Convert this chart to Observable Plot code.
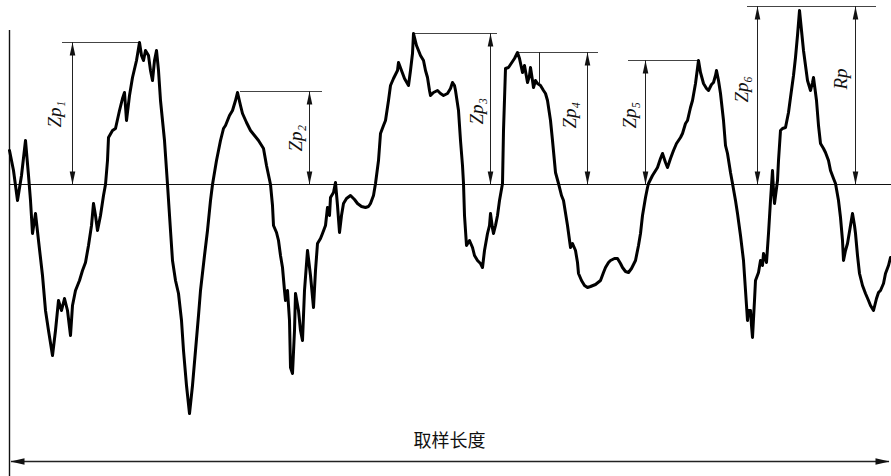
<!DOCTYPE html>
<html>
<head>
<meta charset="utf-8">
<script src="https://cdn.jsdelivr.net/npm/d3@7"></script>
<script src="https://cdn.jsdelivr.net/npm/@observablehq/plot@0.6"></script>
<style>
  html, body { margin: 0; padding: 0; background: #fff; }
  #chart svg { display: block; }
</style>
</head>
<body>
<div id="chart"></div>
<script>
// Roughness profile over one sampling length: position along the surface
// and height above the mean line (same arbitrary units on both axes).
const profileX = [
  9,13,17,21,25,28,30,32,35,38,42,45,48,52,55,58,61,64,67,70,72,75,79,82,85,88,91,93,95,97,100,103,105,107,108,112,115,119,122,124,126,129,132,136,139,141,143,145,148,150,152,154,156,158,160,164,167,170,172,175,178,181,183,186,189,192,195,198,200,204,207,210,212,216,220,223,225,229,232,235,237,240,242,246,250,254,258,263,266,270,272,273,276,278,280,282,284,285,287,289,290,292,294,295,298,300,302,304,307,310,313,315,317,320,322,325,327,329,330,333,335,337,339,341,343,346,350,354,357,361,365,368,370,373,375,378,380,383,385,388,390,393,397,398,401,404,408,410,412,413,416,418,420,423,425,427,429,430,433,437,440,443,447,450,452,454,455,458,460,462,463,464,466,469,472,474,477,480,482,484,487,489,490,492,493,495,497,499,502,503,505,508,510,514,517,519,522,524,527,529,530,532,533,535,537,540,543,545,547,550,552,555,558,561,563,567,570,572,575,577,578,581,584,587,590,595,600,603,605,608,610,614,617,620,622,625,628,631,635,638,640,642,645,647,648,652,657,660,662,665,667,670,673,676,680,682,685,687,690,692,695,698,700,703,706,708,711,713,715,716,718,720,723,725,727,730,732,735,737,740,743,745,747,748,750,751,752,754,755,758,760,762,763,766,768,770,772,773,774,777,778,780,782,785,788,790,793,795,797,799,801,803,805,807,810,812,813,816,818,820,823,825,828,830,833,835,838,840,842,843,845,847,850,852,854,855,857,859,862,865,868,870,873,876,878,880,883,885,888,890
];
const profileZ = [
  34,14,-16,9,44,9,-16,-49,-29,-56,-91,-126,-146,-171,-146,-116,-126,-114,-126,-151,-121,-106,-96,-86,-78,-61,-41,-19,-31,-46,-31,-11,0,24,47,54,56,74,86,92,64,89,107,124,142,129,124,134,129,114,104,124,134,114,84,44,0,-46,-76,-96,-109,-136,-166,-201,-229,-201,-166,-131,-106,-71,-46,-16,0,24,44,56,59,69,74,84,92,79,71,62,54,49,44,36,19,0,-21,-41,-48,-56,-71,-83,-106,-116,-106,-136,-183,-189,-146,-109,-126,-146,-156,-106,-66,-91,-123,-86,-59,-54,-49,-41,-23,-31,-13,-8,2,-21,-48,-31,-19,-14,-11,-15,-19,-22,-23,-22,-19,-11,1,24,51,59,64,84,99,106,114,122,114,106,99,114,131,151,139,134,129,124,114,107,94,89,92,94,91,89,91,96,102,99,94,74,44,19,1,-31,-61,-56,-63,-71,-76,-79,-83,-66,-49,-41,-29,-44,-49,-41,-31,-16,1,54,116,117,120,126,132,126,112,119,102,109,117,104,97,104,101,99,94,91,84,64,44,12,1,-11,-16,-41,-63,-59,-66,-78,-89,-96,-101,-103,-102,-100,-96,-88,-83,-78,-76,-74,-74,-79,-83,-87,-88,-84,-76,-61,-49,-31,-13,-3,1,9,17,26,31,22,17,26,34,41,47,51,61,64,77,84,101,124,112,101,96,94,100,102,109,114,104,91,64,39,31,12,1,-16,-29,-51,-76,-106,-136,-126,-126,-141,-153,-116,-96,-88,-76,-81,-69,-78,-49,-16,14,-6,-19,4,24,54,56,57,72,87,109,127,149,174,154,134,119,104,94,102,107,84,59,41,36,32,24,14,6,1,-16,-33,-56,-76,-66,-59,-41,-29,-41,-49,-71,-89,-101,-109,-116,-121,-126,-114,-108,-106,-99,-89,-81,-73
];

// Local peak heights Zp1..Zp6 above the mean line; Rp is the largest of them.
const peakNames = ["Zp₁", "Zp₂", "Zp₃", "Zp₄", "Zp₅", "Zp₆"];
const peakHeights = [142, 93, 151, 132, 124, 178];
const rpName = "Rp";
const lengthLabel = "取样长度";

// ---- drawing layout (annotation placement) ----
const W = 891, H = 476;
const xMin = 9, xMax = 891;             // sampling length drawn
const peakArrowX = [72, 309, 490, 587, 645, 757];
const refLineFrom = [62, 240, 413, 517, 628, 747];
const refLineTo   = [140, 322, 497, 598, 698, 876];
const labelX = [54, 295, 476, 569, 629, 741];
const labelZ = [57, 33, 60, 56, 56, 82];
const rpArrowX = 855, rpLabelX = 840, rpLabelZ = 95;
const frameTop = 154, frameBottom = -292;
const lengthArrowZ = -277, lengthLabelZ = -257;
const tickX = 539, tickBottom = 101;     // small drop line from the Zp4 reference

const rp = d3.max(peakHeights);

const profile = profileX.map((x, i) => ({x, z: profileZ[i]}));
const peaks = peakNames.map((name, i) => ({
  name, h: peakHeights[i], ax: peakArrowX[i],
  x1: refLineFrom[i], x2: refLineTo[i], lx: labelX[i], lz: labelZ[i]
}));
const arrows = [...peaks.map(p => ({x: p.ax, h: p.h})), {x: rpArrowX, h: rp}];

// narrow filled arrowheads, tip at the symbol origin
const headUp = {draw(c) { c.moveTo(0, 0); c.lineTo(2.8, 13); c.lineTo(-2.8, 13); c.closePath(); }};
const headDown = {draw(c) { c.moveTo(0, 0); c.lineTo(2.8, -13); c.lineTo(-2.8, -13); c.closePath(); }};
const headLeft = {draw(c) { c.moveTo(0, 0); c.lineTo(14, 3.2); c.lineTo(14, -3.2); c.closePath(); }};
const headRight = {draw(c) { c.moveTo(0, 0); c.lineTo(-14, 3.2); c.lineTo(-14, -3.2); c.closePath(); }};

const serif = "'Liberation Serif', 'DejaVu Serif', serif";

const chart = Plot.plot({
  width: W,
  height: H,
  margin: 0,
  x: {domain: [0, W], axis: null},
  y: {domain: [frameBottom, H - 292], axis: null},
  marks: [
    // frame: start of sampling length and mean line
    Plot.ruleX([xMin], {y1: frameTop, y2: frameBottom, stroke: "#111", strokeWidth: 1.4}),
    Plot.ruleY([0], {x1: xMin, x2: xMax, stroke: "#111", strokeWidth: 1.2}),

    // horizontal reference lines through each peak
    Plot.ruleY(peaks, {y: "h", x1: "x1", x2: "x2", stroke: "#444", strokeWidth: 1}),
    Plot.ruleY([rp], {x1: refLineFrom[5], x2: refLineTo[5], stroke: "#444", strokeWidth: 1}),
    Plot.ruleX([tickX], {y1: peakHeights[3], y2: tickBottom, stroke: "#222", strokeWidth: 1}),

    // double-headed height arrows
    Plot.ruleX(arrows, {x: "x", y1: 0, y2: "h", stroke: "#222", strokeWidth: 1}),
    Plot.dot(arrows, {x: "x", y: "h", symbol: headUp, fill: "#111", stroke: null, r: 3}),
    Plot.dot(arrows, {x: "x", y: 0, symbol: headDown, fill: "#111", stroke: null, r: 3}),

    // the profile itself
    Plot.line(profile, {x: "x", y: "z", stroke: "#000", strokeWidth: 3,
      strokeLinejoin: "round", strokeLinecap: "round", curve: "linear"}),

    // peak labels
    Plot.text(peaks, {x: "lx", y: "lz", text: "name", rotate: -90,
      fontFamily: serif, fontStyle: "italic", fontSize: 19, fill: "#111", textAnchor: "start"}),
    Plot.text([rpName], {x: rpLabelX, y: rpLabelZ, text: d => d, rotate: -90,
      fontFamily: serif, fontStyle: "italic", fontSize: 19, fill: "#111", textAnchor: "start"}),

    // sampling length dimension
    Plot.ruleY([lengthArrowZ], {x1: xMin + 2, x2: 889, stroke: "#222", strokeWidth: 1.3}),
    Plot.dot([xMin + 1], {x: d => d, y: lengthArrowZ, symbol: headLeft, fill: "#111", stroke: null, r: 3}),
    Plot.dot([889], {x: d => d, y: lengthArrowZ, symbol: headRight, fill: "#111", stroke: null, r: 3}),
    Plot.text([lengthLabel], {x: (xMin + 889) / 2, y: lengthLabelZ, text: d => d,
      fontFamily: "'Noto Sans CJK SC', sans-serif", fontSize: 18, fill: "#111"})
  ]
});

document.getElementById("chart").appendChild(chart);
</script>
</body>
</html>
